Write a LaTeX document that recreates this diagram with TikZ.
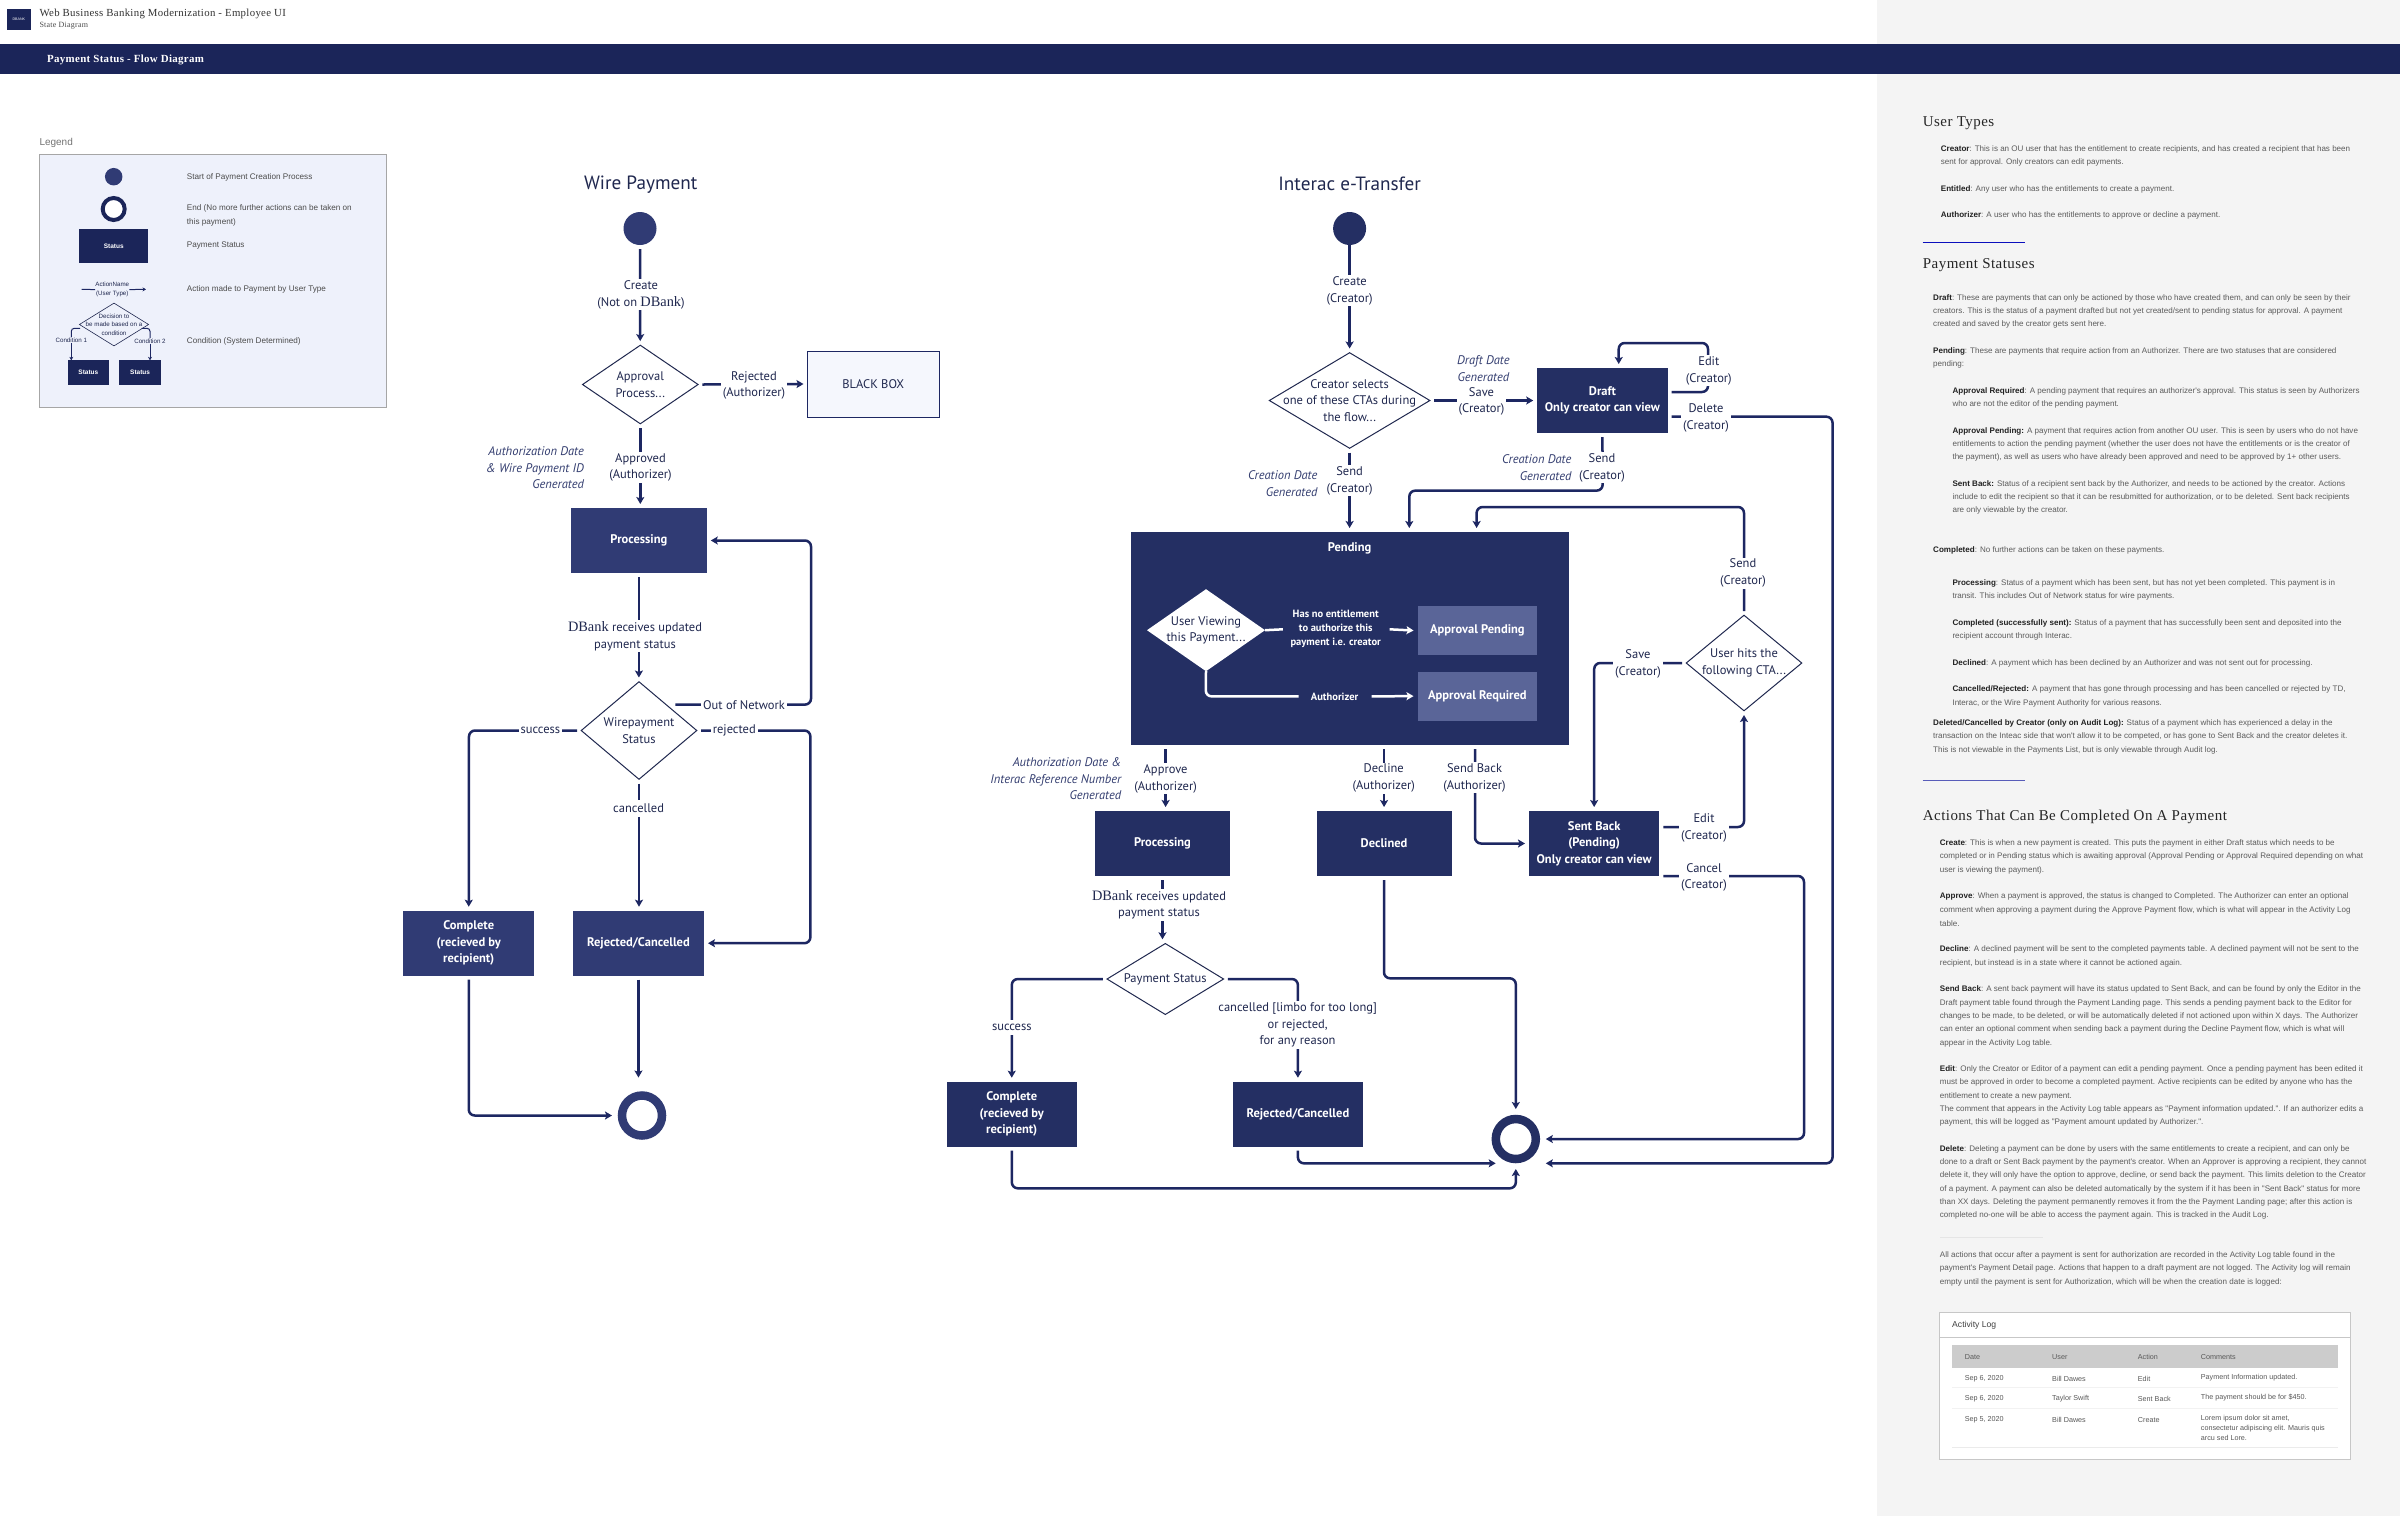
\documentclass[tikz,border=0pt]{standalone}
\usepackage{fontspec}
\usetikzlibrary{arrows.meta,shapes.geometric}
\setmainfont{PT Sans}
\newfontfamily\bodyfam{Liberation Sans}
\newfontfamily\headfam[LetterSpace=3]{Liberation Serif}
\newfontfamily\dbkfam[Scale=1.15]{Liberation Serif}
\definecolor{navy}{HTML}{1B2559}
\definecolor{wirebox}{HTML}{303B74}
\definecolor{intbox}{HTML}{242F63}
\definecolor{linec}{HTML}{1D2762}
\definecolor{labc}{HTML}{20284F}
\definecolor{notec}{HTML}{343E70}
\definecolor{subbox}{HTML}{5A6598}
\definecolor{panel}{HTML}{F4F4F4}
\definecolor{legfill}{HTML}{EEF1FB}
\definecolor{bodyc}{HTML}{5C5C5C}
\definecolor{boldc}{HTML}{222222}
\newcommand{\dbk}{{\dbkfam DBank}}
\newcounter{bl}
\tikzset{
  lbl/.style={font=\fontsize{12.5}{16.5}\selectfont,text=labc,fill=white,align=center,inner xsep=2pt,inner ysep=1.5pt,yshift=-.8pt},
  lbla/.style={lbl,inner xsep=3pt,inner ysep=4.5pt},
  note/.style={font=\itshape\fontsize{12.5}{16.5}\selectfont,text=notec,align=right,inner sep=0pt,yshift=-.8pt},
  conn/.style={draw=linec,line width=2.5pt,rounded corners=6pt},
  arr/.style={conn,-{Stealth[length=7pt,width=8pt,inset=1.5pt]}},
  warr/.style={draw=white,line width=2.5pt,rounded corners=6pt,-{Stealth[length=7pt,width=8pt,inset=1.5pt]}},
  wln/.style={draw=white,line width=2.5pt,rounded corners=6pt},
  stbox/.style={rectangle,inner sep=0pt,outer sep=4pt,text=white,align=center,font=\bfseries\fontsize{12.5}{16.5}\selectfont},
  dia/.style={diamond,draw=labc,fill=white,line width=1pt,inner sep=0pt,outer sep=3pt},
  dtxt/.style={font=\fontsize{12.5}{16.5}\selectfont,text=labc,align=center,inner sep=0pt},
  sdot/.style={circle,fill=wirebox,inner sep=0pt,minimum size=33pt,outer sep=4pt},
  ring/.style={circle,draw=wirebox,line width=8.5pt,fill=white,inner sep=0pt,minimum size=40pt,outer sep=10pt},
  ttl/.style={font=\fontsize{19.2}{21}\selectfont,text=labc,inner sep=0pt,yshift=-1.2pt},
  bodytx/.style={anchor=west,inner sep=0pt,text=bodyc,font=\bodyfam\fontsize{8.05}{9}\selectfont,yshift=-.8pt},
  headtx/.style={anchor=west,inner sep=0pt,text=black!85,font=\headfam\fontsize{15}{16}\selectfont,yshift=-1.2pt},
  legtx/.style={anchor=west,inner sep=0pt,text=black!70,font=\bodyfam\fontsize{8.15}{10}\selectfont,yshift=-1pt},
  mini/.style={inner sep=0pt,text=labc,align=center,font=\bodyfam\fontsize{6.2}{8.5}\selectfont},
  minibox/.style={rectangle,inner sep=0pt,fill=navy,text=white,outer sep=0pt,font=\bodyfam\bfseries\fontsize{6.5}{8}\selectfont},
  lconn/.style={draw=linec,line width=1pt,rounded corners=3pt},
  larr/.style={lconn,-{Stealth[length=3.5pt,width=4pt]}},
  tbl/.style={anchor=west,inner sep=0pt,text=black!65,font=\bodyfam\fontsize{7.2}{10.2}\selectfont,align=left,yshift=-.5pt},
}
\newcommand{\bodyline}[3]{\stepcounter{bl}\node[bodytx] (bl\thebl) at (#1,#2) {#3};}
\newcommand{\tableitem}[3]{\stepcounter{bl}\node[tbl] (bl\thebl) at (#1,#2) {#3};}
\newcommand{\stnode}[7][]{\node[stbox,minimum width={#5-#3},minimum height={#6-#4},#1] (#2) at ({(#3+#5)/2},{(#4+#6)/2}) {#7};}
\newcommand{\dianode}[6]{\node[dia,minimum width=#4,minimum height=#5,label={[dtxt]center:{#6}}] (#1) at (#2,#3) {};}
\begin{document}
\begin{tikzpicture}[x=1pt,y=-1pt]
\useasboundingbox (0,0) rectangle (2400,1516);
\fill[white] (0,0) rectangle (2400,1516);
\fill[panel] (1877,0) rectangle (2400,1516);
% ---------- header
\fill[navy] (0,44) rectangle (2400,74);
\node[rectangle,fill=navy,text=white,inner sep=0pt,minimum width=24.5pt,minimum height=21.5pt,font=\bodyfam\fontsize{3.6}{4}\selectfont] (logo) at (18.8,19.7) {DBANK};
\node[anchor=west,inner sep=0pt,text=black!80,font=\headfam\fontsize{10.8}{12}\selectfont,yshift=-.8pt] (maintitle) at (39.3,13.3) {Web Business Banking Modernization - Employee UI};
\node[anchor=west,inner sep=0pt,text=black!70,font=\headfam\fontsize{8}{10}\selectfont,yshift=-.5pt] (subtitle) at (39.3,25.3) {State Diagram};
\node[anchor=west,inner sep=0pt,text=white,font=\headfam\bfseries\fontsize{10.9}{12}\selectfont,yshift=-1pt] (navtitle) at (47,59) {Payment Status - Flow Diagram};
% ---------- legend
\node[anchor=west,inner sep=0pt,text=black!55,font=\bodyfam\fontsize{10}{12}\selectfont,yshift=-.8pt] (legtitle) at (39.3,142) {Legend};
\draw[draw=black!35,fill=legfill,line width=.8pt] (39.3,154.3) rectangle (386.7,407.3);
\node[circle,fill=wirebox,inner sep=0pt,minimum size=17.5pt] (lstart) at (113.7,176.7) {};
\node[circle,draw=navy,line width=4pt,fill=white,inner sep=0pt,minimum size=22pt] (lend) at (113.7,209) {};
\node[minibox,minimum width=69.3pt,minimum height=34.3pt] (lstat) at (113.7,246.2) {Status};
\node[mini] (lact) at (112.3,289.6) {ActionName\\(User Type)};
\coordinate (lal) at (81.7,289.3);
\coordinate (lar) at (146,289.3);
\draw[lconn] (lal) -- (lact.west);
\draw[larr] (lact.east) -- (lar);
\node[diamond,draw=labc,line width=.6pt,inner sep=0pt,minimum width=69.4pt,minimum height=43pt,label={[mini]center:{Decision to\\be made based on a\\condition}}] (ldia) at (114,324.5) {};
\node[minibox,minimum width=41.3pt,minimum height=24.7pt] (ls1) at (88.35,372.65) {Status};
\node[minibox,minimum width=41.7pt,minimum height=24.7pt] (ls2) at (140.15,372.65) {Status};
\node[mini,inner sep=.5pt] (lc1) at (71.3,340) {Condition 1};
\node[mini,inner sep=.5pt] (lc2) at (150,341) {Condition 2};
\coordinate (lb1) at (80,328.3);
\coordinate (lb2) at (141.7,328.3);
\draw[lconn] (lb1) -- (71.3,328.3) -- (lc1.north);
\draw[lconn] (lb2) -- (150,328.3) -- (lc2.north);
\draw[larr] (lc1.south) -- (ls1.north -| lc1.south);
\draw[larr] (lc2.south) -- (ls2.north -| lc2.south);
\node[legtx] (lt1) at (186.7,176.7) {Start of Payment Creation Process};
\node[legtx] (lt2) at (186.7,207.7) {End (No more further actions can be taken on};
\node[legtx] (lt2b) at (186.7,221) {this payment)};
\node[legtx] (lt3) at (186.7,244.3) {Payment Status};
\node[legtx] (lt4) at (186.7,288.7) {Action made to Payment by User Type};
\node[legtx] (lt5) at (186.7,340) {Condition (System Determined)};
% ---------- wire payment
\node[ttl] (wtitle) at (640.7,183) {Wire Payment};
\node[sdot] (ws) at (640,228.5) {};
\dianode{wa}{640.3}{384.5}{118}{81}{Approval\\Process...}
\stnode[fill=legfill!60,draw=linec,line width=1pt,text=labc,font=\fontsize{12.5}{16.5}\selectfont]{bb}{807.5}{351}{939}{417}{BLACK BOX}
\stnode[fill=wirebox]{wp}{571}{508}{706.8}{573}{Processing}
\dianode{wd}{639}{730.5}{118}{100}{Wirepayment\\Status}
\stnode[fill=wirebox]{wc}{403.2}{910.7}{534.3}{975.7}{Complete\\(recieved by\\recipient)}
\stnode[fill=wirebox]{wr}{572.9}{910.7}{704}{975.7}{Rejected/Cancelled}
\node[ring] (we) at (642,1115.5) {};
\coordinate (wnet) at (675.4,704.6);
\draw[arr] (ws) -- (wa);
\draw[arr] (wa.east) -- (bb.west);
\draw[arr] (wa.south) -- (wa.south |- wp.north);
\draw[arr] (wp.south) -- (wp.south |- wd.north);
\draw[arr] (wnet) -- (811,704.6) -- (811,540.5) -- (wp.east);
\draw[arr] (wd.west) -- (469,730.5) -- (wc.north);
\draw[arr] (wd.east) -- (810.4,730.5) -- (810.4,943.2) -- (wr.east);
\draw[arr] (wd.south) -- (wd.south |- wr.north);
\draw[arr] (wc.south) -- (468.75,1115.5) -- (we.west);
\draw[arr] (wr.south) -- ([yshift=8pt]wr.south |- we.north);
\node[lbl] (wl1) at (641,294) {Create\\(Not on \dbk)};
\node[lbl] (wl2) at (754,384.5) {Rejected\\(Authorizer)};
\node[lbl] (wl3) at (640.5,466.5) {Approved\\(Authorizer)};
\node[note] (wn1) at (535,467) {Authorization Date\\\& Wire Payment ID\\Generated};
\node[lbl] (wl4) at (635,635.5) {\dbk{} receives updated\\payment status};
\node[lbl] (wl5) at (744,704.6) {Out of Network};
\node[lbl] (wl6) at (540.4,729.8) {success};
\node[lbl] (wl7) at (734.3,729.8) {rejected};
\node[lbla] (wl8) at (638.6,807.7) {cancelled};
% ---------- interac
\node[ttl] (ititle) at (1349.6,183) {Interac e-Transfer};
\node[sdot,fill=intbox,outer sep=0pt] (is) at (1349.6,228.5) {};
\dianode{id}{1349.6}{400.5}{163}{98}{Creator selects\\one of these CTAs during\\the flow...}
\stnode[fill=intbox]{draft}{1537.2}{368}{1667.6}{433}{Draft\\Only creator can view}
\stnode[fill=intbox]{pend}{1130.5}{532}{1569.2}{745}{}
\node[inner sep=0pt,text=white,font=\bfseries\fontsize{12.5}{16.5}\selectfont] (pendt) at (1349.6,548.8) {Pending};
\node[diamond,fill=white,inner sep=0pt,outer sep=0pt,minimum width=118pt,minimum height=82pt,label={[dtxt]center:{User Viewing\\this Payment...}}] (uv) at (1206,630.2) {};
\node[rectangle,fill=intbox,inner sep=0pt,minimum width=105.4pt,minimum height=67pt,text=white,align=center,font=\bfseries\fontsize{10.5}{14}\selectfont] (noent) at (1335.7,629.3) {Has no entitlement\\to authorize this\\payment i.e. creator};
\node[rectangle,fill=intbox,inner sep=0pt,minimum width=71.8pt,minimum height=24.8pt,text=white,font=\bfseries\fontsize{10.5}{14}\selectfont] (auth) at (1334.6,696.4) {Authorizer};
\stnode[fill=subbox,outer sep=4pt]{apen}{1417.5}{605.8}{1537.2}{655.2}{Approval Pending}
\stnode[fill=subbox,outer sep=4pt]{areq}{1417.5}{671.6}{1537.2}{720.6}{Approval Required}
\dianode{ud}{1744}{663}{118}{98}{User hits the\\following CTA...}
\stnode[fill=intbox]{ip}{1095}{811}{1229.9}{876}{Processing}
\stnode[fill=intbox]{dc}{1316.6}{811}{1451.5}{876}{Declined}
\stnode[fill=intbox]{sb}{1529}{811}{1659.3}{876}{Sent Back\\(Pending)\\Only creator can view}
\dianode{pd}{1165.3}{979}{119}{73.4}{Payment Status}
\stnode[fill=intbox]{ic}{946.9}{1081.7}{1076.6}{1146.7}{Complete\\(recieved by\\recipient)}
\stnode[fill=intbox]{ir}{1232.8}{1081.7}{1363}{1146.7}{Rejected/Cancelled}
\node[ring,draw=intbox] (ie) at (1515.8,1139) {};
\coordinate (ieL) at (1495.7,1163.3);
\draw[arr] (is) -- (id);
\draw[arr] (id.east) -- (draft.west);
\draw[arr] (id.south) -- (pend.north -| id.south);
\draw[arr] (draft.east |- 0,392) -- (1708,392) -- (1708,343) -- (1618.7,343) -- (draft.north -| 1618.7,0);
\draw[arr] (draft.east |- 0,416.7) -- (1832.5,416.7) -- (1832.5,1163.3) -- (ie.east |- 0,1163.3);
\draw[arr] (draft.south) -- (1602.7,490.6) -- (1409.3,490.6) -- (pend.north -| 1409.3,0);
\draw[arr] (ud.north) -- (1744,507) -- (1476.6,507) -- (pend.north -| 1476.6,0);
\draw[arr] (ud.west) -- (1594.2,663) -- (sb.north);
\draw[arr] (sb.east |- 0,827) -- (1744,827) -- (ud.south);
\draw[arr] (sb.east |- 0,876) -- (1804,876) -- (1804,1139) -- (ie.east);
\draw[arr] (pend.south -| 1165.6,0) -- (ip.north -| 1165.6,0);
\draw[arr] (pend.south -| dc.north) -- (dc.north);
\draw[arr] (pend.south -| 1475,0) -- (1475,843.5) -- (sb.west);
\draw[arr] (ip.south) -- (ip.south |- pd.north);
\draw[arr] (pd.west) -- (1011.8,979) -- (ic.north);
\draw[arr] (pd.east) -- (1297.9,979) -- (ir.north);
\draw[arr] (dc.south) -- (1384,978.3) -- (1515.8,978.3) -- (ie.north);
\draw[arr] (ir.south) -- (1297.9,1163.3) -- (ieL);
\draw[arr] (ic.south) -- (1011.8,1188.3) -- (1515.8,1188.3) -- (ie.south);
\draw[wln] (uv.east) -- (noent.west);
\draw[wln] (uv.south) -- (1205.7,696.4) -- (auth.west);
\draw[warr] ([xshift=1pt]noent.east) -- (apen.west);
\draw[warr] ([xshift=1pt]auth.east) -- (areq.west);
\node[lbl] (il1) at (1349.6,290) {Create\\(Creator)};
\node[lbl] (il2) at (1481.5,400.4) {Save\\(Creator)};
\node[note,align=center] (in1) at (1483.4,368) {Draft Date\\Generated};
\node[lbl] (il3) at (1708.8,370) {Edit\\(Creator)};
\node[lbl] (il4) at (1706,417.2) {Delete\\(Creator)};
\node[lbl] (il5) at (1602,467) {Send\\(Creator)};
\node[note,anchor=east] (in2) at (1571.6,467) {Creation Date\\Generated};
\node[lbl] (il6) at (1349.6,480) {Send\\(Creator)};
\node[note,anchor=east] (in3) at (1317.6,483) {Creation Date\\Generated};
\node[lbl] (il7) at (1743,572.3) {Send\\(Creator)};
\node[lbl] (il8) at (1638,663) {Save\\(Creator)};
\node[lbl] (il9) at (1165.6,778) {Approve\\(Authorizer)};
\node[note,anchor=east] (in4) at (1121.4,778) {Authorization Date \&\\Interac Reference Number\\Generated};
\node[lbl] (il10) at (1383.7,777.3) {Decline\\(Authorizer)};
\node[lbl] (il11) at (1474.5,777) {Send Back\\(Authorizer)};
\node[lbl] (il12) at (1704,827) {Edit\\(Creator)};
\node[lbl] (il13) at (1704,876.5) {Cancel\\(Creator)};
\node[lbl] (il14) at (1159,903.8) {\dbk{} receives updated\\payment status};
\node[lbla] (il15) at (1011.8,1026.7) {success};
\node[lbl] (il16) at (1297.6,1024.3) {cancelled [limbo for too long]\\or rejected,\\for any reason};
% ---------- right panel
\node[headtx] (h1) at (1922.7,122.3) {User Types};
\draw[draw=blue!60!navy,line width=1.5pt] (1922.7,242.3) -- (2025,242.3);
\node[headtx] (h2) at (1922.7,264.3) {Payment Statuses};
\draw[draw=blue!40!navy!70,line width=1.5pt] (1922.7,780.5) -- (2025,780.5);
\node[headtx] (h3) at (1922.7,816) {Actions That Can Be Completed On A Payment};
\draw[draw=black!10,line width=1pt] (1940,1237.3) -- (2043,1237.3);
\newcommand{\bb}[1]{\textbf{\textcolor{boldc}{#1}}}
\bodyline{1940.7}{148.7}{\bb{Creator}: This is an OU user that has the entitlement to create recipients, and has created a recipient that has been}
\bodyline{1940.7}{162}{sent for approval. Only creators can edit payments.}
\bodyline{1940.7}{188.3}{\bb{Entitled}: Any user who has the entitlements to create a payment.}
\bodyline{1940.7}{215}{\bb{Authorizer}: A user who has the entitlements to approve or decline a payment.}
\bodyline{1933}{297.3}{\bb{Draft}: These are payments that can only be actioned by those who have created them, and can only be seen by their}
\bodyline{1933}{310.7}{creators. This is the status of a payment drafted but not yet created/sent to pending status for approval. A payment}
\bodyline{1933}{324}{created and saved by the creator gets sent here.}
\bodyline{1933}{350.3}{\bb{Pending}: These are payments that require action from an Authorizer. There are two statuses that are considered}
\bodyline{1933}{364}{pending:}
\bodyline{1952.3}{390.3}{\bb{Approval Required}: A pending payment that requires an authorizer's approval. This status is seen by Authorizers}
\bodyline{1952.3}{403.7}{who are not the editor of the pending payment.}
\bodyline{1952.3}{430.3}{\bb{Approval Pending:} A payment that requires action from another OU user. This is seen by users who do not have}
\bodyline{1952.3}{443.7}{entitlements to action the pending payment (whether the user does not have the entitlements or is the creator of}
\bodyline{1952.3}{457}{the payment), as well as users who have already been approved and need to be approved by 1+ other users.}
\bodyline{1952.3}{483.3}{\bb{Sent Back:} Status of a recipient sent back by the Authorizer, and needs to be actioned by the creator. Actions}
\bodyline{1952.3}{496.7}{include to edit the recipient so that it can be resubmitted for authorization, or to be deleted. Sent back recipients}
\bodyline{1952.3}{510}{are only viewable by the creator.}
\bodyline{1933}{549.7}{\bb{Completed}: No further actions can be taken on these payments.}
\bodyline{1952.3}{582.7}{\bb{Processing}:  Status of a payment which has been sent, but has not yet been completed. This payment is in}
\bodyline{1952.3}{596}{transit. This includes Out of Network status for wire payments.}
\bodyline{1952.3}{622.3}{\bb{Completed (successfully sent):} Status of a payment that has successfully been sent and deposited into the}
\bodyline{1952.3}{635.7}{recipient account through Interac.}
\bodyline{1952.3}{662.3}{\bb{Declined}: A payment which has been declined by an Authorizer and was not sent out for processing.}
\bodyline{1952.3}{689}{\bb{Cancelled/Rejected:} A payment that has gone through processing and has been cancelled or rejected by TD,}
\bodyline{1952.3}{702.3}{Interac, or the Wire Payment Authority for various reasons.}
\bodyline{1933}{722.3}{\bb{Deleted/Cancelled by Creator (only on Audit Log):} Status of a payment which has experienced a delay in the}
\bodyline{1933}{736}{transaction on the Inteac side that won't allow it to be competed, or has gone to Sent Back and the creator deletes it.}
\bodyline{1933}{749.3}{This is not viewable in the Payments List, but is only viewable through Audit log.}
\bodyline{1939.7}{842.7}{\bb{Create}: This is when a new payment is created. This puts the payment in either Draft status which needs to be}
\bodyline{1939.7}{856}{completed or in Pending status which is awaiting approval (Approval Pending or Approval Required depending on what}
\bodyline{1939.7}{869.3}{user is viewing the payment).}
\bodyline{1939.7}{896}{\bb{Approve}: When a payment is approved, the status is changed to Completed. The Authorizer can enter an optional}
\bodyline{1939.7}{909.3}{comment when approving a payment during the Approve Payment flow, which is what will appear in the Activity Log}
\bodyline{1939.7}{922.7}{table.}
\bodyline{1939.7}{949}{\bb{Decline}: A declined payment will be sent to the completed payments table. A declined payment will not be sent to the}
\bodyline{1939.7}{962.3}{recipient, but instead is in a state where it cannot be actioned again.}
\bodyline{1939.7}{989}{\bb{Send Back}: A sent back payment will have its status updated to Sent Back, and can be found by only the Editor in the}
\bodyline{1939.7}{1002.3}{Draft payment table found through the Payment Landing page. This sends a pending payment back to the Editor for}
\bodyline{1939.7}{1015.7}{changes to be made, to be deleted, or will be automatically deleted if not actioned upon within X days. The Authorizer}
\bodyline{1939.7}{1029}{can enter an optional comment when sending back a payment during the Decline Payment flow, which is what will}
\bodyline{1939.7}{1042.3}{appear in the Activity Log table.}
\bodyline{1939.7}{1068.7}{\bb{Edit}: Only the Creator or Editor of a payment can edit a pending payment. Once a pending payment has been edited it}
\bodyline{1939.7}{1082}{must be approved in order to become a completed payment. Active recipients can be edited by anyone who has the}
\bodyline{1939.7}{1095.3}{entitlement to create a new payment.}
\bodyline{1939.7}{1108.3}{The comment that appears in the Activity Log table appears as "Payment information updated.". If an authorizer edits a}
\bodyline{1939.7}{1121.7}{payment, this will be logged as "Payment amount updated by Authorizer.".}
\bodyline{1939.7}{1148.3}{\bb{Delete}: Deleting a payment can be done by users with the same entitlements to create a recipient, and can only be}
\bodyline{1939.7}{1161.7}{done to a draft or Sent Back payment by the payment's creator. When an Approver is approving a recipient, they cannot}
\bodyline{1939.7}{1175}{delete it, they will only have the option to approve, decline, or send back the payment. This limits deletion to the Creator}
\bodyline{1939.7}{1188.3}{of a payment. A payment can also be deleted automatically by the system if it has been in "Sent Back" status for more}
\bodyline{1939.7}{1201.7}{than XX days. Deleting the payment permanently removes it from the the Payment Landing page; after this action is}
\bodyline{1939.7}{1215}{completed no-one will be able to access the payment again. This is tracked in the Audit Log.}
\bodyline{1939.7}{1254.7}{All actions that occur after a payment is sent for authorization are recorded in the Activity Log table found in the}
\bodyline{1939.7}{1268}{payment's Payment Detail page. Actions that happen to a draft payment are not logged. The Activity log will remain}
\bodyline{1939.7}{1281.3}{empty until the payment is sent for Authorization, which will be when the creation date is logged:}
% ---------- activity log card
\draw[draw=black!22,fill=white,line width=.8pt] (1939.7,1312.7) rectangle (2350.7,1459.3);
\draw[draw=black!22,line width=.8pt] (1939.7,1337) -- (2350.7,1337);
\node[anchor=west,inner sep=0pt,text=black!75,font=\bodyfam\fontsize{8.6}{10}\selectfont,yshift=-.8pt] (logt) at (1952,1324.7) {Activity Log};
\fill[black!20] (1952.3,1345.3) rectangle (2338,1367.7);
\draw[draw=black!5,line width=.6pt] (1952.3,1387.7) -- (2338,1387.7);
\draw[draw=black!5,line width=.6pt] (1952.3,1408.3) -- (2338,1408.3);
\draw[draw=black!8,line width=.6pt] (1952.3,1447.3) -- (2338,1447.3);
\tableitem{1964.7}{1356.3}{Date}
\tableitem{2052}{1356.3}{User}
\tableitem{2137.7}{1356.3}{Action}
\tableitem{2200.7}{1356.3}{Comments}
\tableitem{1964.7}{1378.3}{Sep 6, 2020}
\tableitem{2052}{1378.3}{Bill Dawes}
\tableitem{2137.7}{1378.3}{Edit}
\tableitem{2200.7}{1376.7}{Payment Information updated.}
\tableitem{1964.7}{1398.3}{Sep 6, 2020}
\tableitem{2052}{1398.3}{Taylor Swift}
\tableitem{2137.7}{1398.3}{Sent Back}
\tableitem{2200.7}{1397}{The payment should be for \$450.}
\tableitem{1964.7}{1419}{Sep 5, 2020}
\tableitem{2052}{1419}{Bill Dawes}
\tableitem{2137.7}{1419}{Create}
\tableitem{2200.7}{1427.7}{Lorem ipsum dolor sit amet,\\consectetur adipiscing elit. Mauris quis\\arcu sed Lore.}
\end{tikzpicture}
\end{document}
